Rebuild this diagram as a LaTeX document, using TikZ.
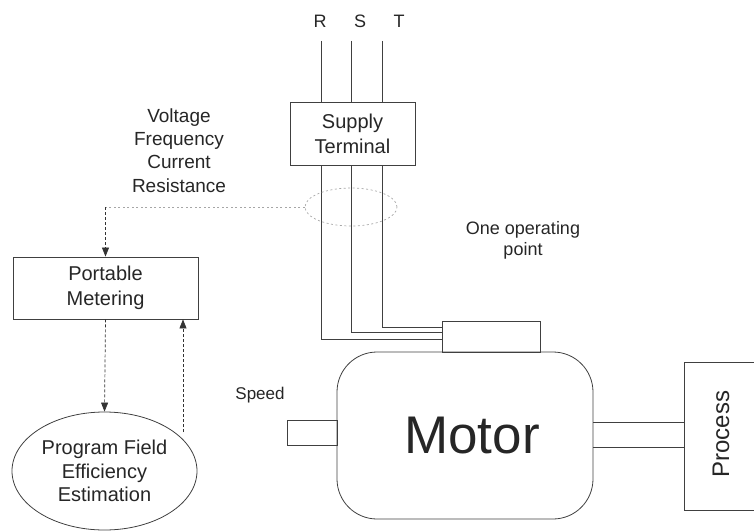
\documentclass[tikz,border=0pt]{standalone}
\usepackage{fontspec}
\setmainfont{Liberation Sans}
\usetikzlibrary{arrows.meta,positioning,calc,shapes.geometric}

\begin{document}
\begin{tikzpicture}[x=1pt, y=-1pt,
    box/.style={rectangle, draw=black!75, line width=0.8pt, inner sep=0pt,
                align=center, text=black!85},
    oval/.style={ellipse, draw=black!75, line width=0.8pt, inner sep=0pt,
                align=center, text=black!85},
    lbl/.style={align=center, text=black!85, inner sep=0pt},
    wire/.style={draw=black!75, line width=0.8pt},
    darr/.style={-{Triangle[length=9pt, width=7pt]}, black!80, line width=0.7pt,
                dash pattern=on 3pt off 2pt},
    dot/.style={black!35, line width=0.7pt, dash pattern=on 2pt off 2.5pt},
]
\useasboundingbox (0,0) rectangle (754,532);

% --- Supply side ---
\node[box, minimum width=125, minimum height=63,
      font=\fontsize{20}{25}\selectfont] (supply) at (352.5,133.5) {Supply\\Terminal};
\node[lbl, font=\fontsize{18}{21}\selectfont, anchor=base] (rlab) at (320,28) {R};
\node[lbl, font=\fontsize{18}{21}\selectfont, anchor=base] (slab) at (360,28) {S};
\node[lbl, font=\fontsize{18}{21}\selectfont, anchor=base] (tlab) at (399,28) {T};
\coordinate (rtop) at (321,41);
\coordinate (stop) at (351,41);
\coordinate (ttop) at (382,41);
\draw[wire] (rtop) -- (rtop |- supply.north);
\draw[wire] (stop) -- (stop |- supply.north);
\draw[wire] (ttop) -- (ttop |- supply.north);

% --- Motor ---
\node[box, minimum width=256, minimum height=167, rounded corners=40pt,
      font=\fontsize{53}{60}\selectfont] (motor) at (465,435.5) {\hspace{14pt}Motor};
\node[box, minimum width=98, minimum height=31] (term) at (491,336.5) {};
\node[box, minimum width=50, minimum height=25] (shaft) at (312,432.5) {};
\node[box, minimum width=76, minimum height=148] (process) at (722,436) {};
\node[lbl, rotate=90, font=\fontsize{24}{28}\selectfont] (proclab) at (721,434) {Process};
\node[lbl, font=\fontsize{17}{20}\selectfont, anchor=base] (speed) at (260,399) {Speed};

% --- Wires into terminal box ---
\draw[wire] (rtop |- supply.south) |- ($(term.west)+(0,2.5)$);
\draw[wire] (stop |- supply.south) |- ($(term.west)+(0,-4.5)$);
\draw[wire] (ttop |- supply.south) |- ($(term.west)+(0,-9.5)$);

% --- Coupling to process ---
\draw[wire] (593,422) -- (process.west |- 0,422);
\draw[wire] (593,447) -- (process.west |- 0,447);

% --- Measurement ---
\node[oval, dot, minimum width=92, minimum height=38, draw=black!35] (probe) at (351,207) {};
\node[lbl, font=\fontsize{19}{23.3}\selectfont] (quant) at (179,150.5)
  {Voltage\\Frequency\\Current\\Resistance};
\node[lbl, font=\fontsize{18}{21}\selectfont] (oppoint) at (523,240)
  {One operating\\point};
\node[box, minimum width=185, minimum height=62,
      font=\fontsize{20}{25}\selectfont] (meter) at (105.5,288) {Portable\\Metering};
\node[oval, minimum width=185, minimum height=118,
      font=\fontsize{20}{23.5}\selectfont] (estim) at (104.5,471)
  {Program Field\\Efficiency\\Estimation};

\draw[dot] (probe.west) -- (probe.west -| meter.north);
\draw[darr] (probe.west -| meter.north) -- (meter.north);
\draw[darr] (meter.south) -- (estim.north);
\coordinate (back) at (183,432);
\draw[darr] (back) -- (back |- meter.south);

\end{tikzpicture}
\end{document}
